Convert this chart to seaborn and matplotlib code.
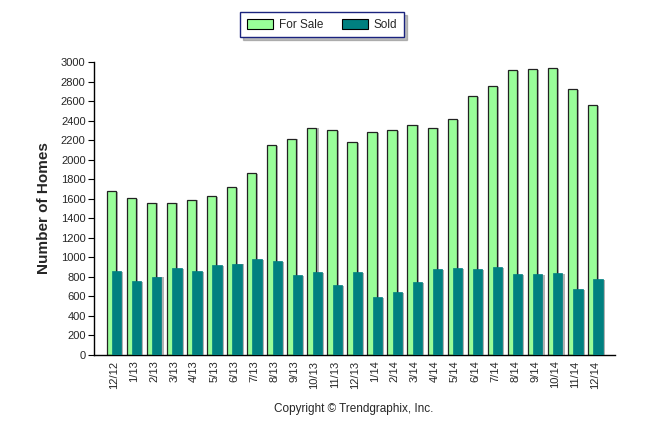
import numpy as np
import pandas as pd
import matplotlib
matplotlib.use("Agg")
import matplotlib.pyplot as plt
import matplotlib.patheffects as pe
import seaborn as sns

months = ["12/12", "1/13", "2/13", "3/13", "4/13", "5/13", "6/13", "7/13", "8/13",
          "9/13", "10/13", "11/13", "12/13", "1/14", "2/14", "3/14", "4/14", "5/14",
          "6/14", "7/14", "8/14", "9/14", "10/14", "11/14", "12/14"]
for_sale = [1680, 1605, 1560, 1560, 1592, 1630, 1718, 1865, 2151, 2216, 2329, 2301, 2182,
            2281, 2301, 2360, 2329, 2417, 2652, 2754, 2918, 2928, 2939, 2721, 2557]
sold = [858, 757, 801, 887, 862, 920, 937, 982, 961, 818, 845, 716, 845,
        590, 641, 743, 880, 887, 880, 897, 825, 825, 839, 675, 777]
series = ["For Sale", "Sold"]
colors = {"For Sale": "#99ff99", "Sold": "#008080"}

df = pd.DataFrame({"month": months * 2,
                   "homes": for_sale + sold,
                   "series": [series[0]] * len(months) + [series[1]] * len(months)})

sns.set_style("white")
plt.rcParams["font.family"] = ["Liberation Sans", "DejaVu Sans"]

fig = plt.figure(figsize=(6.46, 4.34), dpi=100)
ax = fig.add_axes([0.1455, 0.182, 0.807, 0.675])

sns.barplot(data=df, x="month", y="homes", hue="series", order=months,
            hue_order=series, palette=colors, saturation=1, dodge=True, width=0.54,
            errorbar=None, ax=ax, legend=False)

# widen the dodged bars so they overlap like the original
bar_w = 0.46
for i, p in enumerate(ax.patches):
    c = p.get_x() + p.get_width() / 2
    p.set_x(c - bar_w / 2)
    p.set_width(bar_w)
    is_sale = i < len(months)
    p.set_edgecolor("#222222" if is_sale else "#008080")
    p.set_linewidth(0.9 if is_sale else 0.5)
    p.set_zorder(2 if is_sale else 3)
    p.set_path_effects([pe.SimplePatchShadow(offset=(1.5, -0.5), shadow_rgbFace="#555555", alpha=0.45),
                        pe.Normal()])

ax.set_xlim(-1, 25)
ax.set_ylim(0, 3000)
ax.set_yticks(np.arange(0, 3001, 200))
ax.tick_params(axis="y", labelsize=8, length=4, width=0.8, color="black", left=True, pad=2)
ax.tick_params(axis="x", labelsize=8, length=0, rotation=90, pad=4)
ax.set_xlabel("")
ax.set_ylabel("Number of Homes", fontsize=11, fontweight="bold", labelpad=7)
for s in ["top", "right"]:
    ax.spines[s].set_visible(False)
for s in ["left", "bottom"]:
    ax.spines[s].set_color("black")
    ax.spines[s].set_linewidth(1.0)

handles = [plt.Rectangle((0, 0), 1, 1, facecolor=colors[s], edgecolor="black", linewidth=0.8)
           for s in series]
leg = fig.legend(handles, series, loc="upper center", bbox_to_anchor=(0.4985, 0.985),
                 ncol=2, fontsize=8.5, frameon=True, fancybox=False, shadow={"ox": 2, "oy": -2, "alpha": 0.35},
                 edgecolor="#1a237e", handlelength=2.2, handleheight=0.9,
                 columnspacing=1.6, borderpad=0.55, handletextpad=0.5)
leg.get_frame().set_linewidth(1.0)

fig.text(0.548, 0.058, "Copyright \u00a9 Trendgraphix, Inc.", ha="center", va="center", fontsize=8.5)

fig.savefig("out.png", dpi=100)
